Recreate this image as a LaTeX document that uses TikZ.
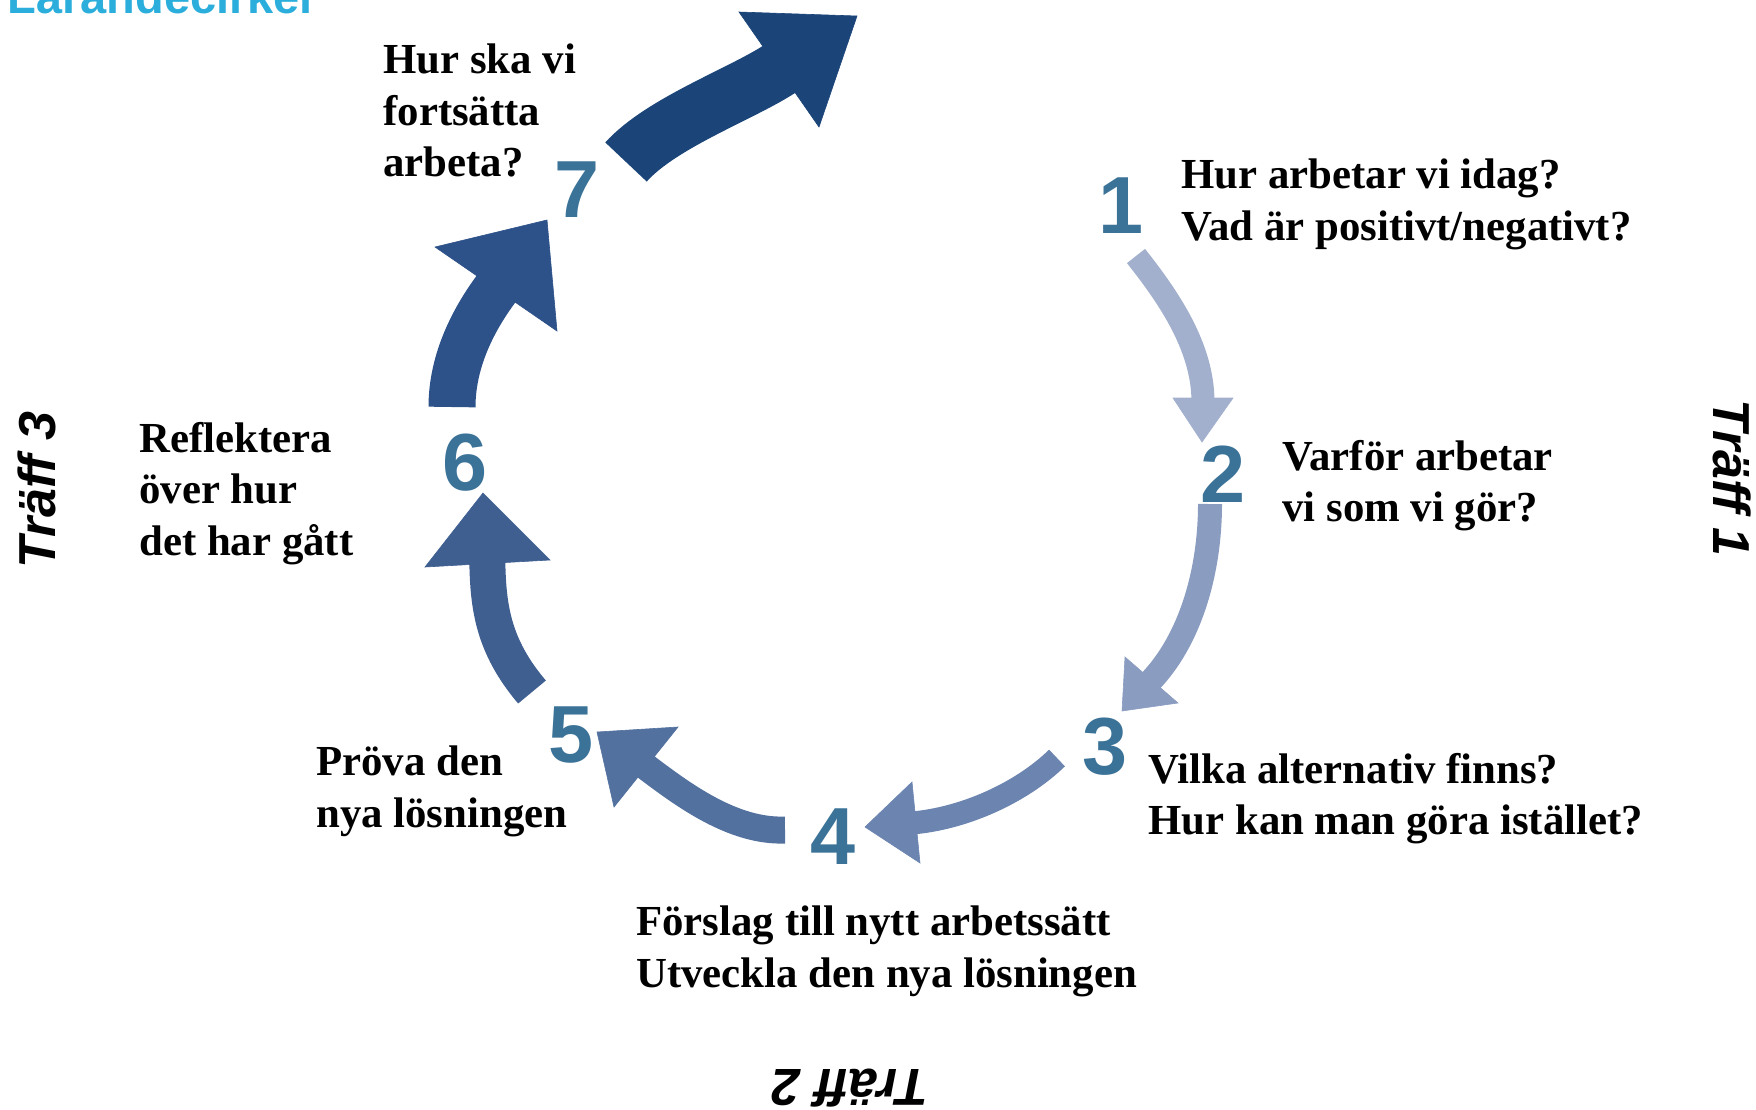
\documentclass[tikz,border=0pt]{standalone}
\usepackage{fontspec}
\setmainfont{Liberation Serif}
\setsansfont{Liberation Sans}
\definecolor{numblue}{HTML}{3B7297}
\definecolor{titleblue}{HTML}{2BAEDB}
\definecolor{cA}{HTML}{A2B0CE}
\definecolor{cB}{HTML}{8A9CC0}
\definecolor{cC}{HTML}{6B84B0}
\definecolor{cD}{HTML}{53719F}
\definecolor{cE}{HTML}{3F5F91}
\definecolor{cF}{HTML}{2D5189}
\definecolor{cG}{HTML}{1B4479}
\begin{document}
\begin{tikzpicture}[x=0.5pt,y=-0.5pt,
  lbl/.style={font=\bfseries\fontsize{21.4}{25.75}\selectfont, align=left, anchor=north west, inner sep=0pt},
  num/.style={font=\sffamily\bfseries\fontsize{40.5}{48}\selectfont, text=numblue, inner sep=0pt},
  traff/.style={font=\sffamily\bfseries\itshape\fontsize{26}{30}\selectfont, inner sep=0pt},
  shaft/.style 2 args={draw=#1, line width=#2, line cap=butt},
  headfill/.style={fill=#1, draw=#1, line width=0.3pt, line join=miter}]
\useasboundingbox (0,0) rectangle (1756,1109);
\clip (0,0) rectangle (1756,1109);

% title (cut off at the top, as in the original)
\node[font=\sffamily\bfseries\fontsize{23.5}{28}\selectfont, text=titleblue, anchor=base west, inner sep=0pt] (title) at (7,13) {Lärandecirkel};

% Träff labels
\node[traff, rotate=90] (tr3) at (37,490) {Träff 3};
\node[traff, rotate=-90] (tr1) at (1732,478) {Träff 1};
\node[traff, rotate=180] (tr2) at (850,1088) {Träff 2};

% numbers
\node[num] (n1) at (1121,206) {1};
\node[num] (n2) at (1223,474) {2};
\node[num] (n3) at (1105,747) {3};
\node[num] (n4) at (833,837) {4};
\node[num] (n5) at (571,735) {5};
\node[num] (n6) at (465,463) {6};
\node[num] (n7) at (577,190) {7};

% labels
\node[lbl] (t7) at (383,43.5) {Hur ska vi\\fortsätta\\arbeta?};
\node[lbl] (t1) at (1181,158.5) {Hur arbetar vi idag?\\Vad är positivt/negativt?};
\node[lbl] (t2) at (1282,439.5) {Varför arbetar\\vi som vi gör?};
\node[lbl] (t3) at (1148,752.5) {Vilka alternativ finns?\\Hur kan man göra istället?};
\node[lbl] (t4) at (636,905.5) {Förslag till nytt arbetssätt\\Utveckla den nya lösningen};
\node[lbl] (t5) at (316,745.5) {Pröva den\\nya lösningen};
\node[lbl] (t6) at (139,421.5) {Reflektera\\över hur\\det har gått};

% arrow coordinates
\coordinate (aT) at (1136,256);  \coordinate (aB) at (1203,402);
\coordinate (aH1) at (1173,398); \coordinate (aP) at (1202,442); \coordinate (aH2) at (1233,398);
\coordinate (bT) at (1210,504);  \coordinate (bB) at (1148.7,683);
\coordinate (bH1) at (1125,657); \coordinate (bP) at (1122,711); \coordinate (bH2) at (1178,703);
\coordinate (cT) at (1057,758);  \coordinate (cB) at (912,823);
\coordinate (cH1) at (912,782);  \coordinate (cP) at (865,827);  \coordinate (cH2) at (920,863);
\coordinate (dT) at (785,830);   \coordinate (dB) at (643,764.5);
\coordinate (dH1) at (678,727);  \coordinate (dP) at (597,732);  \coordinate (dH2) at (614,807);
\coordinate (eT) at (532,692);   \coordinate (eB) at (487.3,560);
\coordinate (eH1) at (425,567);  \coordinate (eP) at (483,493);  \coordinate (eH2) at (550,560);
\coordinate (fT) at (452,407);   \coordinate (fB) at (498.4,285.8);
\coordinate (fH1) at (435,247);  \coordinate (fP) at (547,220);  \coordinate (fH2) at (557,331);
\coordinate (gT) at (626,162);   \coordinate (gB) at (782.3,67.2);
\coordinate (gH1) at (739,12);   \coordinate (gP) at (857,16);   \coordinate (gH2) at (819,127);

% arrows
\draw[shaft={cA}{11.5pt}] (aT) .. controls (1170,299) and (1203,348) .. (aB);
\filldraw[headfill=cA] (aH1) -- (aP) -- (aH2) -- cycle;

\draw[shaft={cB}{12pt}] (bT) .. controls (1210,570) and (1191,640) .. (bB);
\filldraw[headfill=cB] (bH1) -- (bP) -- (bH2) -- cycle;

\draw[shaft={cC}{11.5pt}] (cT) .. controls (1021,793) and (964,818.5) .. (cB);
\filldraw[headfill=cC] (cH1) -- (cP) -- (cH2) -- cycle;

\draw[shaft={cD}{13.5pt}] (dT) .. controls (733,832) and (683,795) .. (dB);
\filldraw[headfill=cD] (dH1) -- (dP) -- (dH2) -- cycle;

\draw[shaft={cE}{18pt}] (eT) .. controls (493,646) and (488,607) .. (eB);
\filldraw[headfill=cE] (eH1) -- (eP) -- (eH2) -- cycle;

\draw[shaft={cF}{23.5pt}] (fT) .. controls (452,360) and (474,318) .. (fB);
\filldraw[headfill=cF] (fH1) -- (fP) -- (fH2) -- cycle;

\draw[shaft={cG}{28.5pt}] (gT) .. controls (662,122) and (745,92.7) .. (gB);
\filldraw[headfill=cG] (gH1) -- (gP) -- (gH2) -- cycle;
\end{tikzpicture}
\end{document}
